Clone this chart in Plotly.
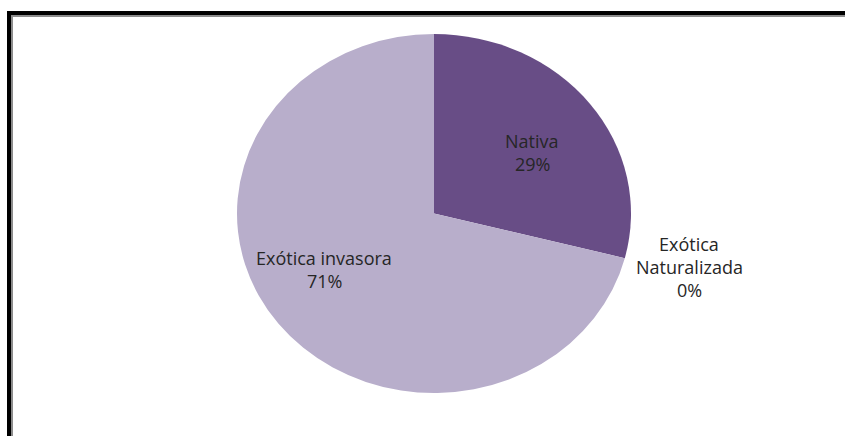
import plotly.graph_objects as go

# Species origin shares (percent)
categories = ["Nativa", "Exótica Naturalizada", "Exótica invasora"]
values = [29, 0, 71]
colors = ["#684D86", "#8064A2", "#B8AECB"]

W, H = 845, 436
cx, cy = 434, 213.5      # pie centre in pixels
rx, ry = 197, 179.5      # horizontal / vertical radius of the (flattened) pie

fig = go.Figure(
    go.Pie(
        labels=categories,
        values=values,
        sort=False,
        direction="clockwise",
        rotation=0,
        marker=dict(colors=colors, line=dict(width=0)),
        textinfo="none",
        hoverinfo="skip",
        showlegend=False,
        domain=dict(
            x=[(cx - ry) / W, (cx + ry) / W],
            y=[(H - cy - ry) / H, (H - cy + ry) / H],
        ),
    )
)

total = sum(values)
# label lines and centre position of each label block (pixels)
label_lines = {
    "Nativa": (["Nativa"], 532, 141),
    "Exótica Naturalizada": (["Exótica", "Naturalizada"], 689, 244),
    "Exótica invasora": (["Exótica invasora"], 324, 258),
}
line_step = 23
annotations = []
for cat, val in zip(categories, values):
    lines, px, py = label_lines[cat]
    lines = lines + [f"{round(100 * val / total)}%"]
    for i, txt in enumerate(lines):
        annotations.append(
            dict(
                x=px / W, y=1 - (py + i * line_step) / H, xref="paper", yref="paper",
                xanchor="center", yanchor="middle",
                text=txt, showarrow=False,
                font=dict(family="Open Sans, sans-serif", size=18, color="#262626"),
            )
        )

# Chart frame: thick black outer rule with a thin grey inner rule
shapes = [
    dict(type="line", xref="paper", yref="paper", x0=9 / W, x1=1.2, y0=1 - 13 / H, y1=1 - 13 / H,
         line=dict(color="black", width=4)),
    dict(type="line", xref="paper", yref="paper", x0=9 / W, x1=9 / W, y0=1 - 11 / H, y1=-0.2,
         line=dict(color="black", width=4)),
    dict(type="line", xref="paper", yref="paper", x0=12 / W, x1=1.2, y0=1 - 16 / H, y1=1 - 16 / H,
         line=dict(color="#8c8c8c", width=2)),
    dict(type="line", xref="paper", yref="paper", x0=12 / W, x1=12 / W, y0=1 - 15 / H, y1=-0.2,
         line=dict(color="#8c8c8c", width=2)),
]

fig.update_layout(
    width=W, height=H,
    margin=dict(l=0, r=0, t=0, b=0),
    paper_bgcolor="white", plot_bgcolor="white",
    annotations=annotations,
    shapes=shapes,
)

# Stretch the pie horizontally about its centre to get the flattened look
sx = rx / ry
stretch_js = (
    "var gd = document.getElementById('{plot_id}');"
    "function stretchPie(){gd.querySelectorAll('.pielayer .trace').forEach(function(t){"
    f"t.setAttribute('transform','translate({cx},0) scale({sx:.4f},1) translate({-cx},0)');"
    "});}"
    "stretchPie(); gd.on('plotly_afterplot', stretchPie);"
)

fig.write_html("out.html", include_plotlyjs=True, config={"displayModeBar": False},
               post_script=stretch_js)
